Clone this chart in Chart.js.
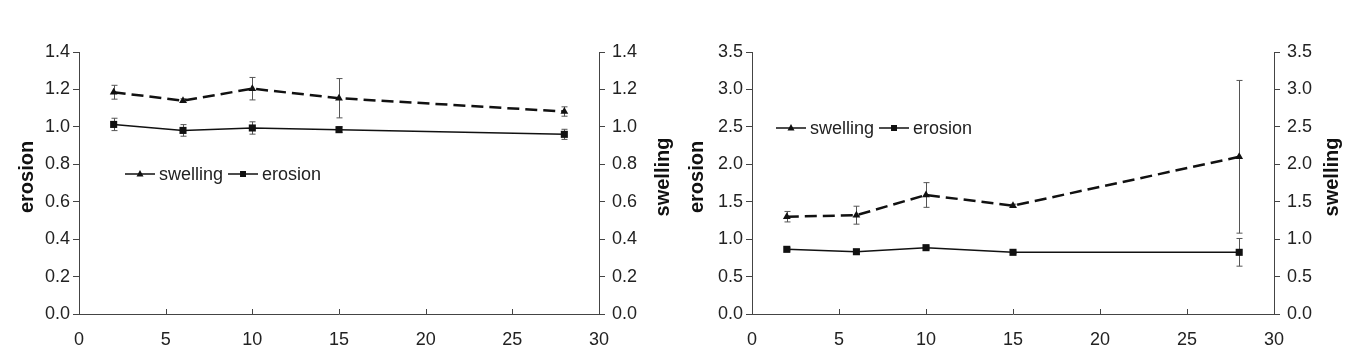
<!DOCTYPE html>
<html><head><meta charset="utf-8">
<script src="https://cdn.jsdelivr.net/npm/chart.js@4/dist/chart.umd.min.js"></script>
<style>
html,body{margin:0;padding:0;background:#fff;overflow:hidden}
#wrap{position:relative;width:1347px;height:364px;background:#fff}
canvas{position:absolute;top:0}
</style></head><body>
<div id="wrap">
<canvas id="c1" width="673" height="364" style="left:0"></canvas>
<canvas id="c2" width="674" height="364" style="left:673px"></canvas>
</div>
<script>
// ---- data ----
const days = [2, 6, 10, 15, 28];
const xTickValues = [0, 5, 10, 15, 20, 25, 30];

const swellingA = [1.185, 1.14, 1.204, 1.153, 1.082];
const swellingErrA = [0.037, 0.01, 0.06, 0.105, 0.025];
const erosionA = [1.013, 0.981, 0.994, 0.985, 0.96];
const erosionErrA = [0.033, 0.031, 0.033, 0.015, 0.027];
const yTicksA = [0, 0.2, 0.4, 0.6, 0.8, 1.0, 1.2, 1.4];

const swellingB = [1.30, 1.32, 1.59, 1.447, 2.10];
const swellingErrB = [0.07, 0.12, 0.165, 0.02, 1.02];
const erosionB = [0.864, 0.832, 0.886, 0.824, 0.824];
const erosionErrB = [0.02, 0.03, 0.02, 0.015, 0.185];
const yTicksB = [0, 0.5, 1.0, 1.5, 2.0, 2.5, 3.0, 3.5];

const seriesNames = ['swelling', 'erosion'];
const axisTitles = ['erosion', 'swelling'];

// ---- style ----
const FONT = '"Liberation Sans", Arial, Helvetica, sans-serif';
const AXIS = '#444';
const INK = '#111';

const panelPlugin = {
  id: 'panel',
  beforeDatasetsDraw(chart, args, opts) {
    const ctx = chart.ctx, xs = chart.scales.x;
    ctx.save();
    ctx.strokeStyle = '#555';
    ctx.lineWidth = 1;
    chart.data.datasets.forEach(ds => {
      const ys = chart.scales[ds.yAxisID];
      ds.data.forEach((p, i) => {
        const e = ds.errors[i];
        const px = Math.round(xs.getPixelForValue(p.x)) + 0.5;
        const y1 = ys.getPixelForValue(p.y + e), y2 = ys.getPixelForValue(p.y - e);
        ctx.beginPath();
        ctx.moveTo(px, y1); ctx.lineTo(px, y2);
        ctx.moveTo(px - 3, y1); ctx.lineTo(px + 3, y1);
        ctx.moveTo(px - 3, y2); ctx.lineTo(px + 3, y2);
        ctx.stroke();
      });
    });
    ctx.restore();
  },
  afterDraw(chart, args, opts) {
    const ctx = chart.ctx, xs = chart.scales.x, area = chart.chartArea;
    ctx.save();
    // inward x tick marks
    ctx.strokeStyle = AXIS; ctx.lineWidth = 1;
    xs.ticks.forEach(t => {
      const px = Math.round(xs.getPixelForValue(t.value)) + 0.5;
      ctx.beginPath(); ctx.moveTo(px, area.bottom); ctx.lineTo(px, area.bottom - 5); ctx.stroke();
    });
    // axis titles (both read bottom-to-top)
    ctx.fillStyle = INK;
    ctx.font = 'bold 20px ' + FONT;
    ctx.textAlign = 'center'; ctx.textBaseline = 'middle';
    [[axisTitles[0], opts.leftTitleX], [axisTitles[1], opts.rightTitleX]].forEach(([txt, x]) => {
      ctx.save(); ctx.translate(x, opts.titleY); ctx.rotate(-Math.PI / 2); ctx.fillText(txt, 0, 0); ctx.restore();
    });
    // legend
    ctx.font = '18px ' + FONT;
    ctx.textAlign = 'left';
    let x = opts.legendX;
    const y = opts.legendY;
    chart.data.datasets.forEach(ds => {
      ctx.strokeStyle = INK; ctx.lineWidth = 1.5; ctx.setLineDash([]);
      ctx.beginPath(); ctx.moveTo(x, y); ctx.lineTo(x + 30, y); ctx.stroke();
      ctx.fillStyle = INK;
      const cx = x + 15;
      ctx.beginPath();
      if (ds.pointStyle === 'triangle') {
        ctx.moveTo(cx, y - 4); ctx.lineTo(cx + 3.5, y + 2.5); ctx.lineTo(cx - 3.5, y + 2.5); ctx.closePath();
      } else {
        ctx.rect(cx - 3, y - 3, 6, 6);
      }
      ctx.fill();
      ctx.fillStyle = '#222';
      ctx.fillText(ds.label, x + 34, y + 1);
      x = x + 34 + ctx.measureText(ds.label).width + 5;
    });
    ctx.restore();
  }
};

function makeChart(id, sw, swErr, er, erErr, yTicks, fmt, layout) {
  const yMax = yTicks[yTicks.length - 1];
  const yAxis = (pos, width) => ({
    type: 'linear', position: pos, min: 0, max: yMax,
    afterBuildTicks: s => { s.ticks = yTicks.map(v => ({ value: v })); },
    afterFit: s => { s.width = width; },
    grid: { display: true, drawOnChartArea: false, drawTicks: true, tickLength: 6, color: AXIS },
    border: { display: true, color: AXIS, width: 1 },
    ticks: { color: '#222', font: { size: 18, family: FONT }, padding: pos === 'left' ? 3 : 7,
             callback: v => Number(v).toFixed(fmt) }
  });
  return new Chart(document.getElementById(id), {
    type: 'line',
    data: {
      datasets: [
        { label: seriesNames[0], yAxisID: 'y2', data: days.map((d, i) => ({ x: d, y: sw[i] })), errors: swErr,
          borderColor: INK, backgroundColor: INK, borderWidth: 2.5, borderDash: [12, 6],
          pointStyle: 'triangle', pointRadius: 4.5, pointBorderWidth: 0, tension: 0 },
        { label: seriesNames[1], yAxisID: 'y', data: days.map((d, i) => ({ x: d, y: er[i] })), errors: erErr,
          borderColor: INK, backgroundColor: INK, borderWidth: 1.5,
          pointStyle: 'rect', pointRadius: 5, pointBorderWidth: 0, tension: 0 }
      ]
    },
    options: {
      responsive: false, animation: false, events: [],
      layout: { padding: { top: 52, left: 0, right: 0, bottom: 0 } },
      plugins: {
        legend: { display: false }, tooltip: { enabled: false },
        panel: layout.panel
      },
      scales: {
        x: {
          type: 'linear', min: 0, max: 30,
          afterBuildTicks: s => { s.ticks = xTickValues.map(v => ({ value: v })); },
          afterFit: s => { s.height = 50; },
          grid: { display: true, drawOnChartArea: false, drawTicks: false, color: AXIS },
          border: { display: true, color: AXIS, width: 1 },
          ticks: { color: '#222', font: { size: 18, family: FONT }, padding: 15, maxRotation: 0 }
        },
        y: yAxis('left', 79),
        y2: yAxis('right', layout.rightWidth)
      }
    },
    plugins: [panelPlugin]
  });
}

makeChart('c1', swellingA, swellingErrA, erosionA, erosionErrA, yTicksA, 1, {
  rightWidth: 74,
  panel: { leftTitleX: 27, rightTitleX: 663, titleY: 177, legendX: 125, legendY: 174 }
});
makeChart('c2', swellingB, swellingErrB, erosionB, erosionErrB, yTicksB, 1, {
  rightWidth: 73,
  panel: { leftTitleX: 24, rightTitleX: 659, titleY: 177, legendX: 103, legendY: 128 }
});
</script>
</body></html>
